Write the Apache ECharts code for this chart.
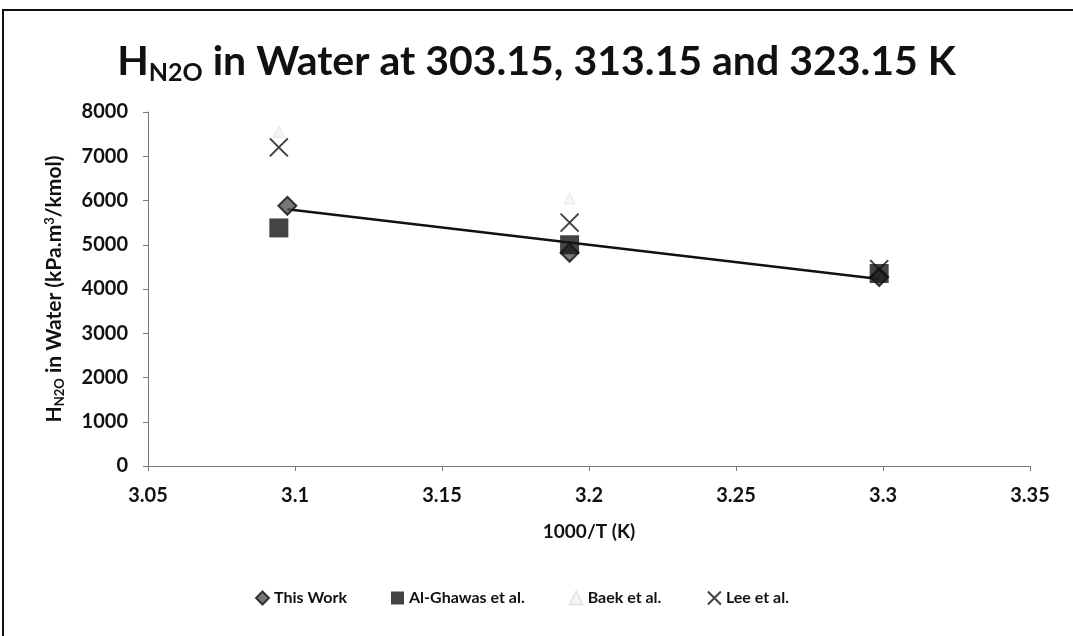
<!DOCTYPE html>
<html>
<head>
<meta charset="utf-8">
<script src="https://cdn.jsdelivr.net/npm/echarts@6/dist/echarts.min.js"></script>
<style>
  html, body { margin: 0; padding: 0; background: #fff; }
  #chart { width: 1073px; height: 636px; }
</style>
</head>
<body>
<div id="chart"></div>
<script>
// 1000/T values (K^-1 x 1000) for each data set
const xThisWork = [3.0974, 3.1934, 3.2987];
const xLiterature = [3.0945, 3.1934, 3.2987];

// Henry's constant of N2O in water, kPa.m3/kmol
const thisWork = [5880, 4820, 4270];
const alGhawas = [5380, 5000, 4350];
const baek = [7550, 6050, 4400];
const lee = [7200, 5500, 4450];

// Linear trend line through the present data (end points)
const trendX = [3.0974, 3.2987];
const trendY = [5800, 4225];

const xTicks = [3.05, 3.1, 3.15, 3.2, 3.25, 3.3, 3.35];
const yTicks = [0, 1000, 2000, 3000, 4000, 5000, 6000, 7000, 8000];

const pairs = (xs, ys) => xs.map((x, i) => [x, ys[i]]);

const font = 'Lato, "Open Sans", sans-serif';

const chart = echarts.init(document.getElementById('chart'));
chart.setOption({
  backgroundColor: '#fff',
  animation: false,
  title: {
    text: '{h|H}{sub|N2O}{h| in Water at 303.15, 313.15 and 323.15 K}',
    left: 'center',
    top: 34,
    textStyle: {
      rich: {
        h: { fontFamily: font, fontWeight: 'bold', fontSize: 41, color: '#111' },
        sub: { fontFamily: font, fontWeight: 'bold', fontSize: 25, color: '#111', verticalAlign: 'bottom', padding: [21, 0, 0, 0] }
      }
    }
  },
  grid: { left: 148, right: 43, top: 112, bottom: 170, containLabel: false },
  legend: {
    bottom: 24,
    left: 250,
    itemGap: 44,
    itemWidth: 13,
    itemHeight: 13,
    textStyle: { fontFamily: font, fontWeight: 'bold', fontSize: 16, color: '#111' },
    data: ['This Work', 'Al-Ghawas et al.', 'Baek et al.', 'Lee et al.']
  },
  xAxis: {
    type: 'value',
    min: 3.05,
    max: 3.35,
    interval: 0.05,
    name: '1000/T (K)',
    nameLocation: 'middle',
    nameGap: 56,
    nameTextStyle: { fontFamily: font, fontWeight: 'bold', fontSize: 19, color: '#111' },
    axisLine: { lineStyle: { color: '#777', width: 1 } },
    axisTick: { show: true, length: 5, lineStyle: { color: '#777' } },
    axisLabel: {
      fontFamily: font, fontWeight: 'bold', fontSize: 20, color: '#111', margin: 20,
      formatter: v => {
        const t = xTicks.find(k => Math.abs(k - v) < 1e-6);
        return t === undefined ? '' : String(t);
      }
    },
    splitLine: { show: false }
  },
  yAxis: {
    type: 'value',
    min: 0,
    max: 8000,
    interval: 1000,
    name: '{h|H}{sub|N2O}{h| in Water (kPa.m}{sup|3}{h|/kmol)}',
    nameLocation: 'middle',
    nameRotate: 90,
    nameGap: 82,
    nameTextStyle: {
      rich: {
        h: { fontFamily: font, fontWeight: 'bold', fontSize: 21, color: '#111' },
        sub: { fontFamily: font, fontWeight: 'bold', fontSize: 13, color: '#111', verticalAlign: 'bottom', padding: [10, 0, 0, 0] },
        sup: { fontFamily: font, fontWeight: 'bold', fontSize: 13, color: '#111', verticalAlign: 'top', padding: [0, 0, 10, 0] }
      }
    },
    axisLine: { show: true, lineStyle: { color: '#777', width: 1 } },
    axisTick: { show: true, length: 5, lineStyle: { color: '#777' } },
    axisLabel: {
      fontFamily: font, fontWeight: 'bold', fontSize: 20, color: '#111', margin: 20,
      formatter: v => (yTicks.includes(v) ? String(v) : '')
    },
    splitLine: { show: false }
  },
  series: [
    {
      name: 'Trend',
      type: 'line',
      data: pairs(trendX, trendY),
      symbol: 'none',
      lineStyle: { color: '#111', width: 2.5 },
      z: 3
    },
    {
      name: 'Al-Ghawas et al.',
      type: 'scatter',
      data: pairs(xLiterature, alGhawas),
      symbol: 'rect',
      symbolSize: 19,
      itemStyle: { color: '#151515' },
      z: 5
    },
    {
      name: 'This Work',
      type: 'scatter',
      data: pairs(xThisWork, thisWork),
      symbol: 'diamond',
      symbolSize: [18, 18],
      itemStyle: { color: '#555', borderColor: '#111', borderWidth: 2 },
      z: 4
    },
    {
      name: 'Baek et al.',
      type: 'scatter',
      data: pairs(xLiterature, baek),
      symbol: 'triangle',
      symbolSize: 11,
      itemStyle: { color: '#f4f4f4', borderColor: '#dedede', borderWidth: 1 },
      z: 2
    },
    {
      name: 'Lee et al.',
      type: 'scatter',
      data: pairs(xLiterature, lee),
      symbol: 'path://M0,0 L10,10 M10,0 L0,10',
      symbolSize: 18,
      itemStyle: { color: 'none', borderColor: '#111', borderWidth: 2 },
      z: 6
    }
  ],
  graphic: [
    {
      type: 'polyline',
      shape: { points: [[3, 636], [3, 10], [1073, 10]] },
      style: { stroke: '#111', lineWidth: 2, fill: null },
      silent: true
    }
  ]
});
</script>
</body>
</html>
